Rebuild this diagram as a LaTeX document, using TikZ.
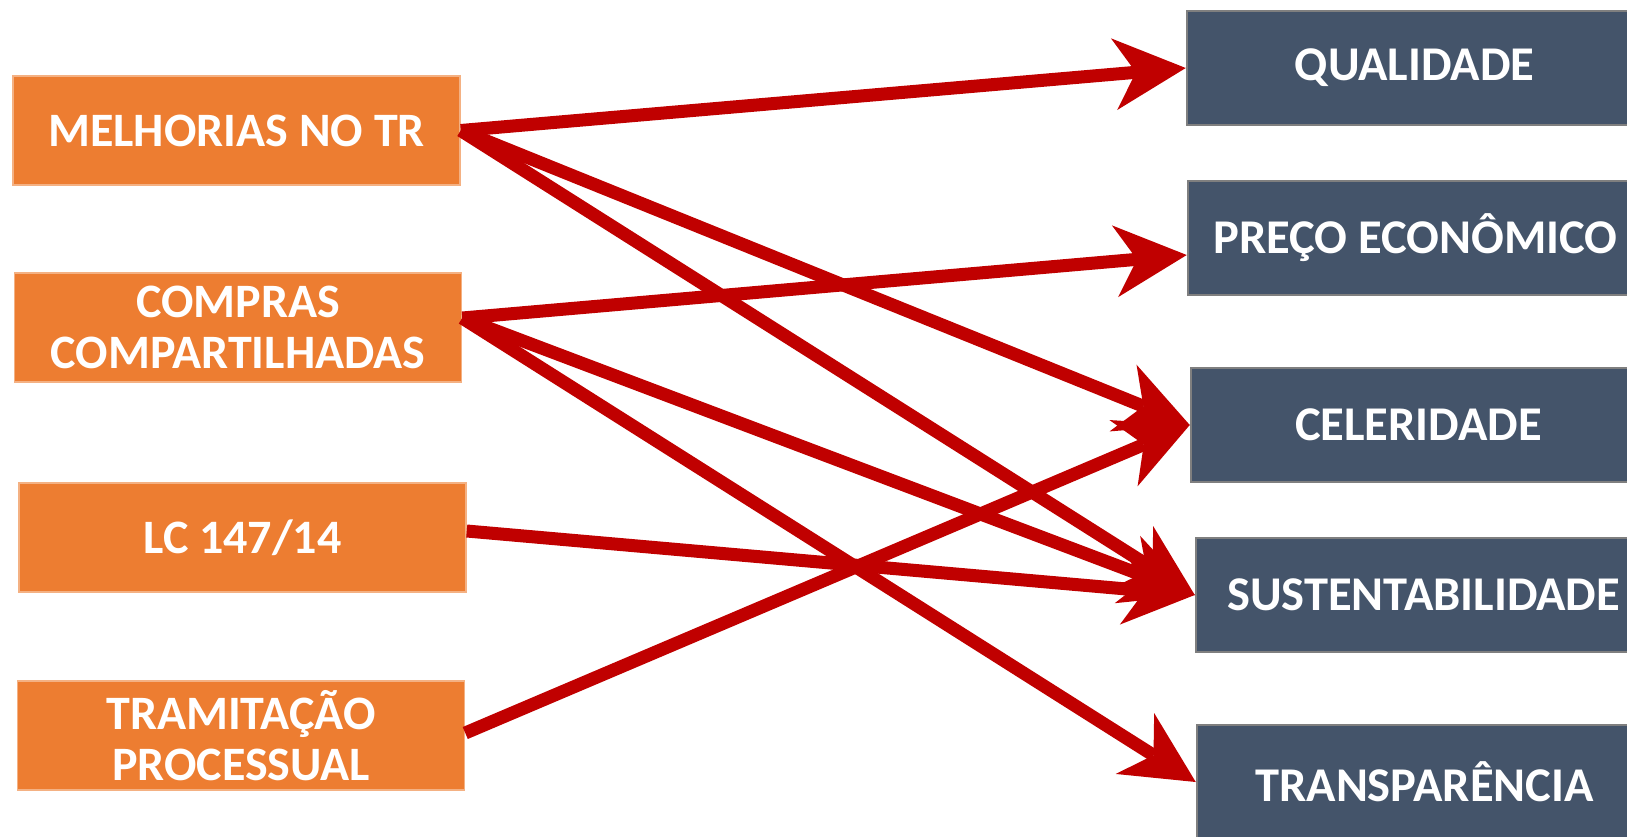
\documentclass[tikz,border=0pt]{standalone}
\usepackage{fontspec}
\setmainfont{Carlito}
\usetikzlibrary{arrows.meta}
\definecolor{cause}{HTML}{ED7D31}
\definecolor{causeedge}{HTML}{F4B183}
\definecolor{goal}{HTML}{44546A}
\definecolor{goaledge}{HTML}{7F7F7F}
\definecolor{link}{HTML}{C00000}
\begin{document}
\begin{tikzpicture}[x=1pt,y=-1pt,
  causebox/.style={draw=causeedge,line width=1.5pt,fill=cause,text=white,
    minimum width=447pt,minimum height=109pt,inner sep=0pt,align=center,
    font=\fontsize{48}{51}\selectfont\bfseries},
  goalbox/.style={draw=goaledge,line width=2.5pt,fill=goal,text=white,
    minimum width=455pt,minimum height=114pt,inner sep=0pt,align=center,
    font=\fontsize{48.5}{55}\selectfont\bfseries},
  link/.style={draw=link,line width=13pt,
    -{Stealth[length=72pt,width=72pt,inset=22pt,line width=0pt]}}]
\useasboundingbox (0,0) rectangle (1627,836);
\clip (0,0) rectangle (1627,836);

% left column: causes
\node[causebox] (mel)  at (236.5,130.5) {MELHORIAS NO TR};
\node[causebox] (comp) at (238,327.5)   {COMPRAS\\COMPARTILHADAS};
\node[causebox] (lc)   at (242.5,537.5) {LC 147/14};
\node[causebox] (tram) at (241,735.5)   {TRAMITAÇÃO\\PROCESSUAL};

% right column: results
\node[goalbox] (qual)   at (1414.5,68)  {QUALIDADE};
\node[goalbox] (preco)  at (1415.5,238) {PREÇO ECONÔMICO};
\node[goalbox] (cel)    at (1418.5,425) {CELERIDADE};
\node[goalbox] (sust)   at (1423.5,595) {SUSTENTABILIDADE};
\node[goalbox] (transp) at (1424.5,782) {TRANSPARÊNCIA};

% connectors
\draw[link] (mel.east) -- (qual.west);
\draw[link] (mel.east) -- (cel.west);
\draw[link] (mel.east) -- (sust.west);
\draw[link] ([yshift=9.5pt]comp.east) -- ([yshift=-17pt]preco.west);
\draw[link] ([yshift=9.5pt]comp.east) -- (sust.west);
\draw[link] ([yshift=9.5pt]comp.east) -- (transp.west);
\draw[link] ([yshift=6.5pt]lc.east) -- (sust.west);
\draw[link] ([yshift=2.5pt]tram.east) -- (cel.west);
\end{tikzpicture}
\end{document}
